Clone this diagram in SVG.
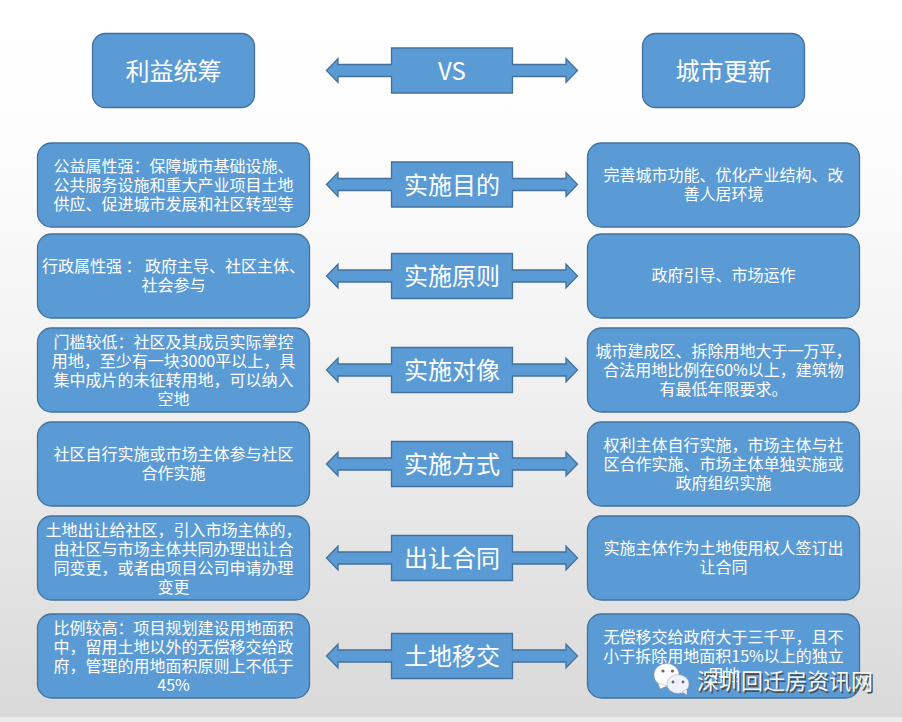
<svg xmlns="http://www.w3.org/2000/svg" width="902" height="722" viewBox="0 0 902 722">
<defs>
<linearGradient id="bg" x1="0" y1="0" x2="0" y2="1"><stop offset="0" stop-color="#ffffff"/><stop offset="0.2" stop-color="#fdfdfd"/><stop offset="0.5" stop-color="#f2f2f2"/><stop offset="1" stop-color="#d9d9d9"/></linearGradient>
<path id="arrow" d="M326.500 0L338 -12V-6H391.500V-22.500H512.500V-6H566V-12L577.500 0L566 12V6H512.500V22.500H391.500V6H338V12Z"/>
<rect id="box" width="272" height="84" rx="14" ry="14"/>
<rect id="head" width="162" height="74" rx="13" ry="13"/>
</defs>
<style>
.b{fill:#5b9bd5;stroke:#41719c;stroke-width:1.300}
text{font-family:"Noto Sans CJK SC","Liberation Sans",sans-serif;fill:#fff;text-anchor:middle}
.s{font-size:16px}
.l{font-size:24px}
.w{font-size:22px;fill:#f6f6f6;text-anchor:start}
.sh{font-size:22px;fill:#4d4d4d;text-anchor:start}
</style>
<rect width="902" height="717" fill="url(#bg)"/>
<rect y="717" width="902" height="5" fill="#ececec"/>
<g id="connectors" class="b">
<use href="#arrow" y="70.500"/>
<use href="#arrow" y="184.500"/>
<use href="#arrow" y="276"/>
<use href="#arrow" y="370"/>
<use href="#arrow" y="464"/>
<use href="#arrow" y="558"/>
<use href="#arrow" y="656"/>
</g>
<g id="labels">
<text x="452" y="79.500" class="l">VS</text>
<text x="452" y="193.500" class="l">实施目的</text>
<text x="452" y="284.500" class="l">实施原则</text>
<text x="452" y="378.500" class="l">实施对像</text>
<text x="452" y="472.500" class="l">实施方式</text>
<text x="452" y="566.500" class="l">出让合同</text>
<text x="452" y="664.500" class="l">土地移交</text>
</g>
<g id="head-left"><use href="#head" x="92.500" y="33.500" class="b"/><text x="173.500" y="79.500" class="l">利益统筹</text></g>
<g id="head-right"><use href="#head" x="642.500" y="33.500" class="b"/><text x="723.500" y="79.500" class="l">城市更新</text></g>
<g id="l1"><use href="#box" x="37.500" y="143" class="b"/><text class="s" x="173.500" y="172">公益属性强：保障城市基础设施、</text><text class="s" x="173.500" y="191">公共服务设施和重大产业项目土地</text><text class="s" x="173.500" y="210">供应、促进城市发展和社区转型等</text></g>
<g id="r1"><use href="#box" x="587.500" y="143" class="b"/><text class="s" x="723.500" y="181">完善城市功能、优化产业结构、改</text><text class="s" x="723.500" y="200">善人居环境</text></g>
<g id="l2"><use href="#box" x="37.500" y="234" class="b"/><text class="s" x="173.500" y="272">行政属性强 ： 政府主导、社区主体、</text><text class="s" x="173.500" y="291">社会参与</text></g>
<g id="r2"><use href="#box" x="587.500" y="234" class="b"/><text class="s" x="723.500" y="281">政府引导、市场运作</text></g>
<g id="l3"><use href="#box" x="37.500" y="328" class="b"/><text class="s" x="173.500" y="348">门槛较低：社区及其成员实际掌控</text><text class="s" x="173.500" y="367">用地，至少有一块3000平以上，具</text><text class="s" x="173.500" y="386">集中成片的未征转用地，可以纳入</text><text class="s" x="173.500" y="405">空地</text></g>
<g id="r3"><use href="#box" x="587.500" y="328" class="b"/><text class="s" x="723.500" y="357">城市建成区、拆除用地大于一万平，</text><text class="s" x="723.500" y="376">合法用地比例在60%以上，建筑物</text><text class="s" x="723.500" y="395">有最低年限要求。</text></g>
<g id="l4"><use href="#box" x="37.500" y="422" class="b"/><text class="s" x="173.500" y="460">社区自行实施或市场主体参与社区</text><text class="s" x="173.500" y="479">合作实施</text></g>
<g id="r4"><use href="#box" x="587.500" y="422" class="b"/><text class="s" x="723.500" y="451">权利主体自行实施，市场主体与社</text><text class="s" x="723.500" y="470">区合作实施、市场主体单独实施或</text><text class="s" x="723.500" y="489">政府组织实施</text></g>
<g id="l5"><use href="#box" x="37.500" y="516" class="b"/><text class="s" x="173.500" y="536">土地出让给社区，引入市场主体的，</text><text class="s" x="173.500" y="555">由社区与市场主体共同办理出让合</text><text class="s" x="173.500" y="574">同变更，或者由项目公司申请办理</text><text class="s" x="173.500" y="593">变更</text></g>
<g id="r5"><use href="#box" x="587.500" y="516" class="b"/><text class="s" x="723.500" y="554">实施主体作为土地使用权人签订出</text><text class="s" x="723.500" y="573">让合同</text></g>
<g id="l6"><use href="#box" x="37.500" y="614" class="b"/><text class="s" x="173.500" y="634">比例较高：项目规划建设用地面积</text><text class="s" x="173.500" y="653">中，留用土地以外的无偿移交给政</text><text class="s" x="173.500" y="672">府，管理的用地面积原则上不低于</text><text class="s" x="173.500" y="691">45%</text></g>
<g id="r6"><use href="#box" x="587.500" y="614" class="b"/><text class="s" x="723.500" y="643">无偿移交给政府大于三千平，且不</text><text class="s" x="723.500" y="662">小于拆除用地面积15%以上的独立</text><text class="s" x="723.500" y="681">用地</text></g>
<g id="watermark">
<g fill="#fff" stroke="#888" stroke-width="0.400"><ellipse cx="666.500" cy="675" rx="12.500" ry="11.500"/><path d="M658 683L660 689L667 686Z"/></g>
<g fill="#eef3fa" stroke="#888" stroke-width="0.400"><ellipse cx="678" cy="684" rx="11" ry="9.500"/><path d="M682 692L687 695L687 689Z"/></g>
<g fill="#666"><circle cx="663" cy="671" r="1.600"/><circle cx="672.500" cy="671" r="1.600"/><circle cx="673" cy="682" r="1.400"/><circle cx="683" cy="682" r="1.400"/></g>
<text class="sh" x="698.500" y="690.500">深圳回迁房资讯网</text>
<text class="w" x="697" y="689">深圳回迁房资讯网</text>
</g>
</svg>
